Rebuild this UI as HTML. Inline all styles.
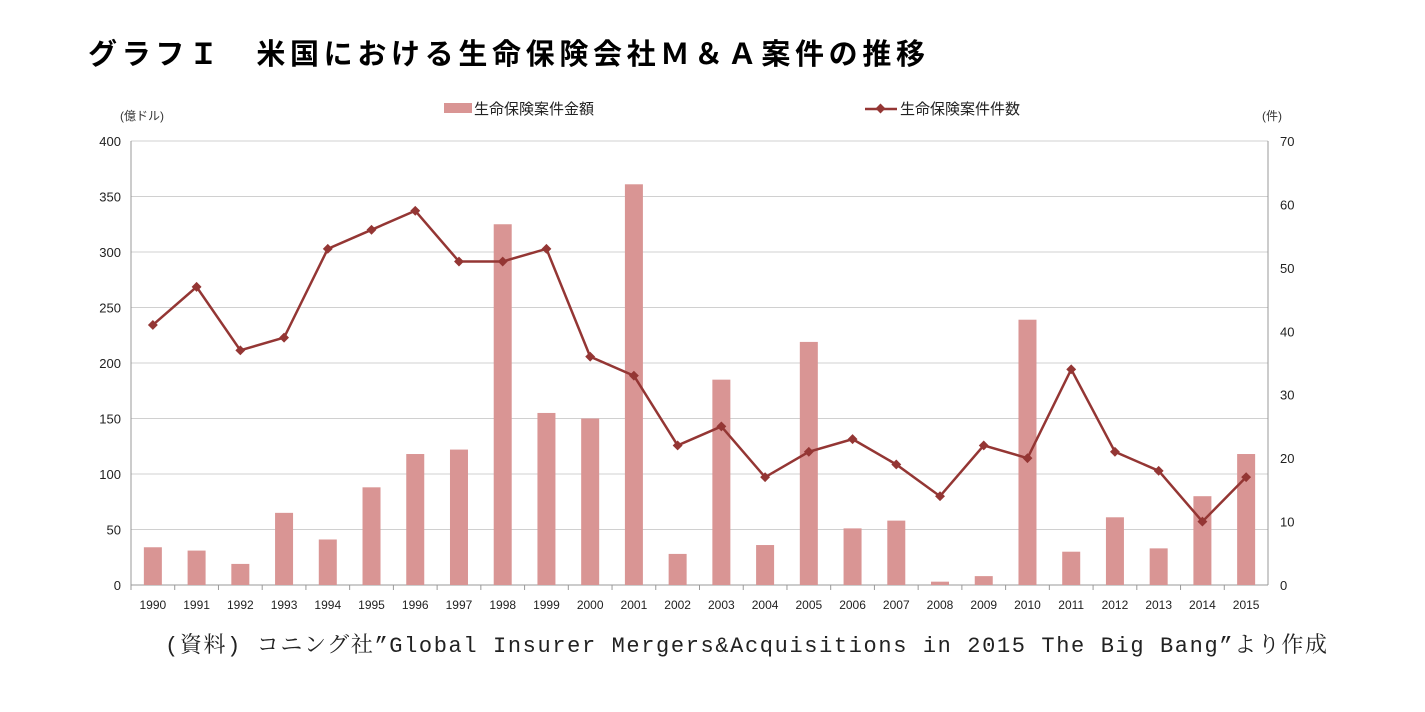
<!DOCTYPE html>
<html><head><meta charset="utf-8"><style>
body{margin:0;background:#fff;width:1425px;height:707px;overflow:hidden;font-family:"Liberation Sans","Noto Sans CJK JP",sans-serif}
</style></head><body>
<svg id="chart" width="1425" height="707" xmlns="http://www.w3.org/2000/svg">
<text x="88" y="64" font-size="29" font-weight="bold" fill="#000" textLength="837" lengthAdjust="spacing" font-family="'Noto Sans CJK JP',sans-serif">グラフＩ　米国における生命保険会社Ｍ＆Ａ案件の推移</text>
<text x="120" y="120" font-size="12" fill="#333">(億ドル)</text>
<text x="1262" y="120" font-size="12" fill="#333">(件)</text>
<rect x="444" y="103" width="28" height="10" fill="#d99594"/>
<text x="474" y="114" font-size="15" fill="#222">生命保険案件金額</text>
<line x1="865" y1="109" x2="897" y2="109" stroke="#943634" stroke-width="2.5"/>
<rect x="877" y="105" width="7" height="7" fill="#943634" transform="rotate(45 880.5 108.5)"/>
<text x="900" y="114" font-size="15" fill="#222">生命保険案件件数</text>
<g id="grid"></g><g id="bars"></g><g id="line"></g><g id="axes"></g>
<text x="165" y="652" font-size="22" fill="#222" textLength="1162" lengthAdjust="spacing" font-family="'Liberation Mono','Noto Serif CJK SC',monospace">(資料) コニング社”Global Insurer Mergers&amp;Acquisitions in 2015 The Big Bang”より作成</text>
</svg>
<script>
const years=["1990","1991","1992","1993","1994","1995","1996","1997","1998","1999","2000","2001","2002","2003","2004","2005","2006","2007","2008","2009","2010","2011","2012","2013","2014","2015"];
const amounts=[34,31,19,65,41,88,118,122,325,155,150,361,28,185,36,219,51,58,3,8,239,30,61,33,80,118];
const counts=[41,47,37,39,53,56,59,51,51,53,36,33,22,25,17,21,23,19,14,22,20,34,21,18,10,17];
const leftTicks=[0,50,100,150,200,250,300,350,400];
const rightTicks=[0,10,20,30,40,50,60,70];
const X0=131,X1=1268,Y0=585,Y1=141;
const NS="http://www.w3.org/2000/svg";
const bw=(X1-X0)/years.length;
const xc=i=>X0+bw*(i+0.5);
const yL=v=>Y0-(v/400)*(Y0-Y1);
const yR=v=>Y0-(v/70)*(Y0-Y1);
function mk(tag,attrs,parent){const e=document.createElementNS(NS,tag);for(const k in attrs)e.setAttribute(k,attrs[k]);document.getElementById(parent).appendChild(e);return e;}
leftTicks.forEach(t=>{
 const g=mk('line',{x1:X0,x2:X1,y1:yL(t),y2:yL(t),stroke:t===0?'#999':'#d0d0d0','stroke-width':1},'grid');
 
 
 const l=mk('text',{x:X0-10,y:yL(t)+5,'font-size':13,'text-anchor':'end',fill:'#222'},'axes');l.textContent=t;
 
 
});
rightTicks.forEach(t=>{
 const l=mk('text',{x:X1+12,y:yR(t)+5,'font-size':13,fill:'#222'},'axes');l.textContent=t;
 
 
});
const ax=mk('line',{x1:X0,x2:X0,y1:Y1,y2:Y0,stroke:'#999'},'axes');


const ax2=mk('line',{x1:X1,x2:X1,y1:Y1,y2:Y0,stroke:'#999'},'axes');


years.forEach((y,i)=>{
 const tk=mk('line',{x1:X0+bw*i,x2:X0+bw*i,y1:Y0,y2:Y0+5,stroke:'#999'},'axes');
 
 
 const l=mk('text',{x:xc(i),y:Y0+24,'font-size':12,'text-anchor':'middle',fill:'#222'},'axes');l.textContent=y;
 
 
 const b=mk('rect',{x:xc(i)-9,y:yL(amounts[i]),width:18,height:Y0-yL(amounts[i]),fill:'#d99594'},'bars');
 
 
});
const p=mk('polyline',{points:counts.map((c,i)=>xc(i)+','+yR(c)).join(' '),fill:'none',stroke:'#943634','stroke-width':2.5},'line');


counts.forEach((c,i)=>{
 const m=mk('rect',{x:xc(i)-3.5,y:yR(c)-3.5,width:7,height:7,fill:'#943634',transform:`rotate(45 ${xc(i)} ${yR(c)})`},'line');
 
 
});
</script>
</body></html>
